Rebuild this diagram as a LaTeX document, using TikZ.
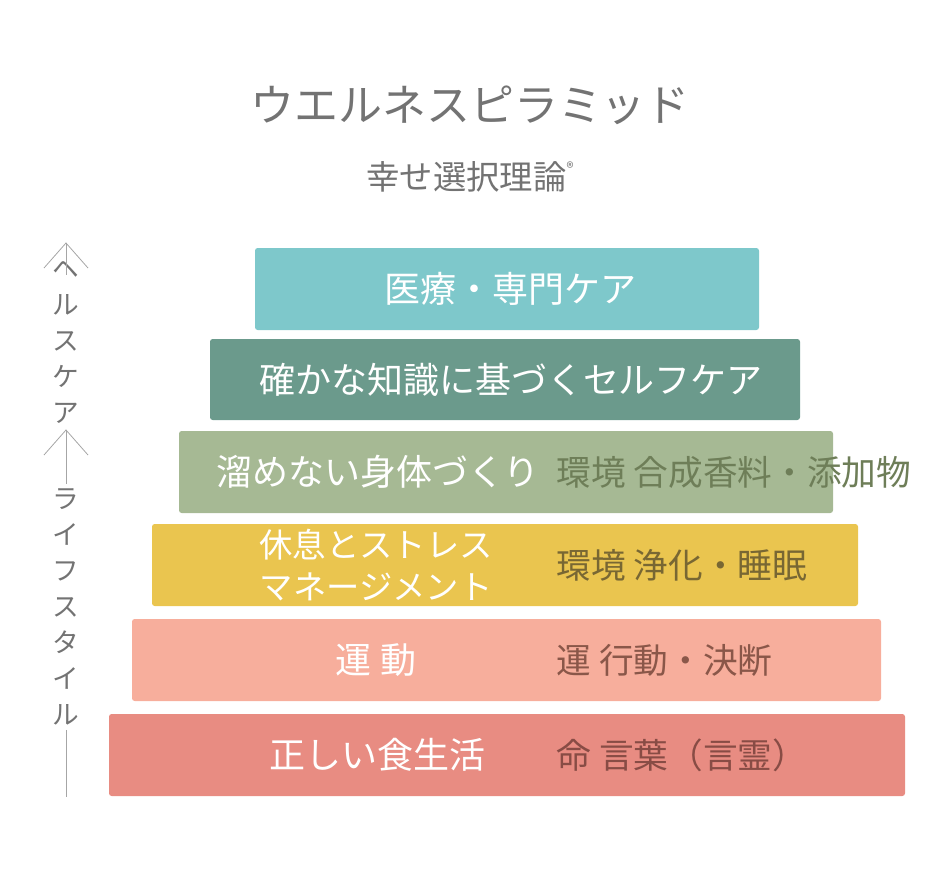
\documentclass[tikz,border=0pt]{standalone}
\usepackage{fontspec}
\setmainfont{Noto Sans CJK JP}
\newfontfamily\jp{Noto Sans CJK JP}
\begin{document}
\begin{tikzpicture}[x=0.75pt,y=-0.75pt,
  bar/.style={rounded corners=2pt,draw=none},
  lt/.style={text=white,font=\jp\fontsize{27}{30}\selectfont},
  rt/.style={anchor=west,font=\jp\fontsize{26}{30}\selectfont},
  side/.style={text=gray!90!black,font=\jp\fontsize{20}{27}\selectfont,align=center},
  ln/.style={draw=gray!70,line width=0.6pt}]
\useasboundingbox (0,0) rectangle (940,892);
\definecolor{c1}{HTML}{7EC8CB}\definecolor{c2}{HTML}{6B9A8C}\definecolor{c3}{HTML}{A6B994}
\definecolor{c4}{HTML}{EAC54F}\definecolor{c5}{HTML}{F7AE9C}\definecolor{c6}{HTML}{E88C82}
\node[text=gray!110,font=\jp\fontsize{33}{36}\selectfont] (title) at (470,105) {ウエルネスピラミッド};
\node[text=gray!110,font=\jp\fontsize{25}{28}\selectfont] (sub) at (470,177) {幸せ選択理論\raisebox{0.5em}{\fontsize{11}{12}\selectfont ®}};
\fill[bar,c1] (255,248) rectangle (759,330);
\fill[bar,c2] (210,339) rectangle (800,420);
\fill[bar,c3] (179,431) rectangle (833,513);
\fill[bar,c4] (152,524) rectangle (858,606);
\fill[bar,c5] (132,619) rectangle (881,701);
\fill[bar,c6] (109,714) rectangle (905,796);
\node[lt] (t1) at (510,289) {医療・専門ケア};
\node[lt] (t2) at (511,380) {確かな知識に基づくセルフケア};
\node[lt] (t3) at (378,472) {溜めない身体づくり};
\node[lt,align=center,font=\jp\fontsize{25}{31}\selectfont] (t4) at (376,565) {休息とストレス\\マネージメント};
\node[lt] (t5) at (376,660) {運 動};
\node[lt] (t6) at (377,755) {正しい食生活};
\node[rt,text={HTML:6F7F5A}!0!black!0,color=black!0] at (0,0) {};
\definecolor{r3}{HTML}{6E7E58}\definecolor{r4}{HTML}{786733}\definecolor{r5}{HTML}{8A5749}\definecolor{r6}{HTML}{884C45}
\node[rt,text=r3] (r3) at (552,472) {環境 合成香料・添加物};
\node[rt,text=r4] (r4) at (552,565) {環境 浄化・睡眠};
\node[rt,text=r5] (r5) at (552,660) {運 行動・決断};
\node[rt,text=r6] (r6) at (552,755) {命 言葉（言霊）};
\coordinate (a1) at (66,243); \coordinate (a2) at (66,430);
\node[side] (s1) at (66,342) {ヘ\\ル\\ス\\ケ\\ア};
\node[side] (s2) at (66,607) {ラ\\イ\\フ\\ス\\タ\\イ\\ル};
\coordinate (e1) at (66,797);
\draw[ln] (44,268) -- (a1) -- (88,268); \draw[ln] (a1) -- (66,275);
\draw[ln] (44,455) -- (a2) -- (88,455); \draw[ln] (a2) -- (s2.north);
\draw[ln] (s2.south) -- (e1);
\end{tikzpicture}
\end{document}
